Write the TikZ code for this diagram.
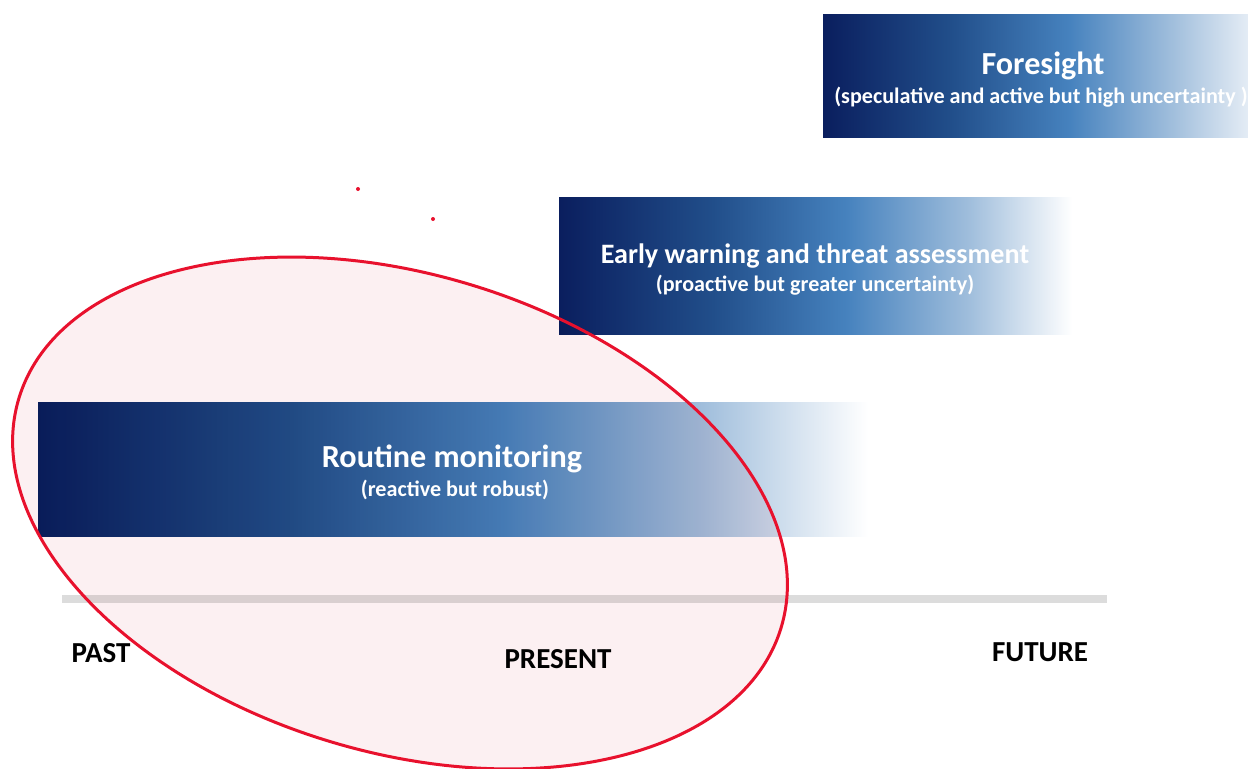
\documentclass[tikz,border=0pt]{standalone}
\usepackage{fontspec}
\setmainfont{Carlito}
\definecolor{bandnavy}{RGB}{10,30,94}
\definecolor{banddeep}{RGB}{33,78,138}
\definecolor{bandmid}{RGB}{70,130,190}
\definecolor{bandlight}{RGB}{160,190,220}
\definecolor{bandpale}{RGB}{228,236,245}
\definecolor{ringred}{RGB}{232,17,45}
\definecolor{ringpink}{RGB}{252,240,242}
\definecolor{axisgray}{RGB}{220,220,220}
\pgfdeclarehorizontalshading{fadewhite}{100bp}{color(0bp)=(bandnavy); color(25bp)=(bandnavy); color(40bp)=(banddeep); color(53bp)=(bandmid); color(65bp)=(bandlight); color(75bp)=(white); color(100bp)=(white)}
\pgfdeclarehorizontalshading{fadepale}{100bp}{color(0bp)=(bandnavy); color(25bp)=(bandnavy); color(40bp)=(banddeep); color(54bp)=(bandmid); color(66bp)=(bandlight); color(75bp)=(bandpale); color(100bp)=(bandpale)}
\tikzset{
	boxtitle/.style={text=white, font=\bfseries\fontsize{16}{19}\selectfont},
	boxnote/.style={text=white, font=\bfseries\fontsize{12.6}{15}\selectfont},
	timelabel/.style={font=\bfseries\fontsize{16.5}{19}\selectfont},
}
\begin{document}
\begin{tikzpicture}[x=0.02cm, y=-0.02cm]
	\useasboundingbox (0,0) rectangle (1248,768);
	% bands
	\shade[shading=fadepale]  (823,14)  rectangle (1248,137);
	\shade[shading=fadewhite] (559,197) rectangle (1072,334);
	\shade[shading=fadewhite] (38,402)  rectangle (868,536);
	% time axis
	\coordinate (axisstart) at (62,599);
	\coordinate (axisend) at (1107,599);
	\draw[axisgray, line width=0.16cm] (axisstart) -- (axisend);
	% present ring
	\fill[ringpink, blend mode=multiply, rotate around={-16.7:(400,513)}]
		(400,513) ellipse [x radius=398, y radius=239];
	\draw[ringred, line width=0.06cm, rotate around={-16.7:(400,513)}]
		(400,513) ellipse [x radius=398, y radius=239];
	\fill[ringred] (358,189) circle (2);
	\fill[ringred] (433,219) circle (2);
	% texts
	\node (foresight) at (1043,66) [boxtitle, font=\bfseries\fontsize{18.3}{21}\selectfont] {Foresight};
	\node (foresightnote) at (1041,97) [boxnote] {(speculative and active but high uncertainty )};
	\node (warning) at (815,256) [boxtitle] {Early warning and threat assessment};
	\node (warningnote) at (815,285) [boxnote] {(proactive but greater uncertainty)};
	\node (routine) at (452,459) [boxtitle, font=\bfseries\fontsize{18.3}{21}\selectfont] {Routine monitoring};
	\node (routinenote) at (455,490) [boxnote] {(reactive but robust)};
	\node (past) at (101,653) [timelabel] {PAST};
	\node (present) at (558,659) [timelabel] {PRESENT};
	\node (future) at (1040,652) [timelabel] {FUTURE};
\end{tikzpicture}
\end{document}
